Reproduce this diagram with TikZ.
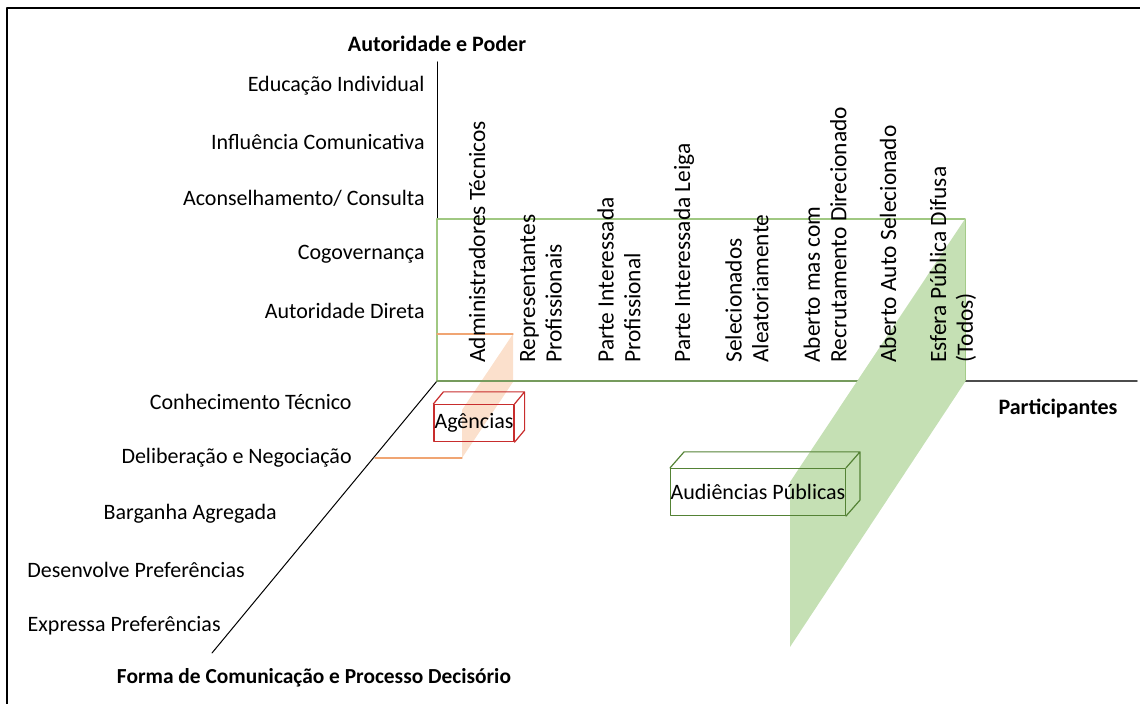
\documentclass[tikz,border=0pt]{standalone}
\usepackage{fontspec}
\setmainfont{Carlito}
\usetikzlibrary{calc}

\definecolor{verdeclaro}{RGB}{197,224,180}
\definecolor{verdelinha}{RGB}{160,200,130}
\definecolor{verdecaixa}{RGB}{84,130,53}
\definecolor{laranjaclaro}{RGB}{251,224,204}
\definecolor{laranjalinha}{RGB}{240,165,115}
\definecolor{vermelhocaixa}{RGB}{200,45,45}

\begin{document}
\begin{tikzpicture}[x=0.5pt, y=-0.5pt, line join=round, line cap=round,
	font=\fontsize{11}{13.5}\selectfont,
	nivel/.style={anchor=east, inner sep=0pt},
	coluna/.style={rotate=90, anchor=west, align=left, inner sep=0pt, font=\fontsize{11.7}{13.3}\selectfont},
	titulo/.style={inner sep=0pt, font=\fontsize{11}{13.5}\selectfont\bfseries},
	caixa/.style={draw, inner sep=0pt, line width=0.6pt}]

			\useasboundingbox (0,0) rectangle (1140,704);

			\draw[line width=1.3pt] (7,704)--(7,8)--(1140,8);

			\coordinate (O) at (437,381);

			\coordinate (Z) at (437,62);

			\coordinate (X) at (1137,381);

			\coordinate (Y) at (212,653);

			\draw[line width=0.5pt] (O)--(Z);

			\draw[line width=0.8pt, black!70] (O)--(X);

			\draw[line width=0.5pt] (O)--(Y);

			\fill[laranjaclaro] (513,334)--(513,382)--(462,458)--(462,410)--cycle;

			\draw[verdelinha, line width=0.6pt] (O)--(437,219)--(965,219)--(965,381);

			\draw[verdecaixa!80, line width=0.8pt] (O)--(857,381);

			\draw[laranjalinha, line width=0.6pt] (437,334)--(513,334);

			\draw[laranjalinha, line width=0.6pt] (375,458)--(462,458);

			\fill[verdeclaro] (965,219)--(965,382)--(790,647)--(790,482)--cycle;

			\node[titulo] (autoridade) at (437,44) {Autoridade e Poder};

			\node[titulo] (participantes) at (1058,408) {Participantes};

			\node[titulo, font=\fontsize{10.7}{13}\selectfont\bfseries] (forma) at (314,678) {Forma de Comunicação e Processo Decisório};

			\node[nivel] (n1) at (425,86) {Educação Individual};

			\node[nivel] (n2) at (425,142) {Influência Comunicativa};

			\node[nivel] (n3) at (425,198) {Aconselhamento/ Consulta};

			\node[nivel] (n4) at (425,254) {Cogovernança};

			\node[nivel] (n5) at (425,311) {Autoridade Direta};

			\node[nivel] (c1) at (352,402) {Conhecimento Técnico};

			\node[nivel] (c2) at (352,458) {Deliberação e Negociação};

			\node[nivel] (c3) at (277,514) {Barganha Agregada};

			\node[nivel] (c4) at (245,570) {Desenvolve Preferências};

			\node[nivel] (c5) at (221,626) {Expressa Preferências};

			\node[coluna] (p1) at (477,363) {Administradores Técnicos};

			\node[coluna] (p2) at (541,363) {Representantes\\Profissionais};

			\node[coluna] (p3) at (619,363) {Parte Interessada\\Profissional};

			\node[coluna] (p4) at (684,363) {Parte Interessada Leiga};

			\node[coluna] (p5) at (747,363) {Selecionados\\Aleatoriamente};

			\node[coluna] (p6) at (825,363) {Aberto mas com\\Recrutamento Direcionado};

			\node[coluna] (p7) at (888,363) {Aberto Auto Selecionado};

			\node[coluna] (p8) at (953,363) {Esfera Pública Difusa\\(Todos)};

			\node[caixa, vermelhocaixa, text=black, minimum width=40pt, minimum height=18.5pt] (agencias) at (474,423) {Agências};

			\draw[vermelhocaixa, line width=0.6pt] (agencias.north west)--++(10,-12)--($(agencias.north east)+(10,-12)$)--(agencias.north east)
				($(agencias.north east)+(10,-12)$)--($(agencias.south east)+(10,-12)$)--(agencias.south east);

			\node[caixa, verdecaixa, text=black, minimum width=85pt, minimum height=23.5pt] (audiencias) at (758,492) {Audiências Públicas};

			\draw[verdecaixa, line width=0.6pt] (audiencias.north west)--++(14,-16)--($(audiencias.north east)+(14,-16)$)--(audiencias.north east)
				($(audiencias.north east)+(14,-16)$)--($(audiencias.south east)+(14,-16)$)--(audiencias.south east);

	\end{tikzpicture}
\end{document}
